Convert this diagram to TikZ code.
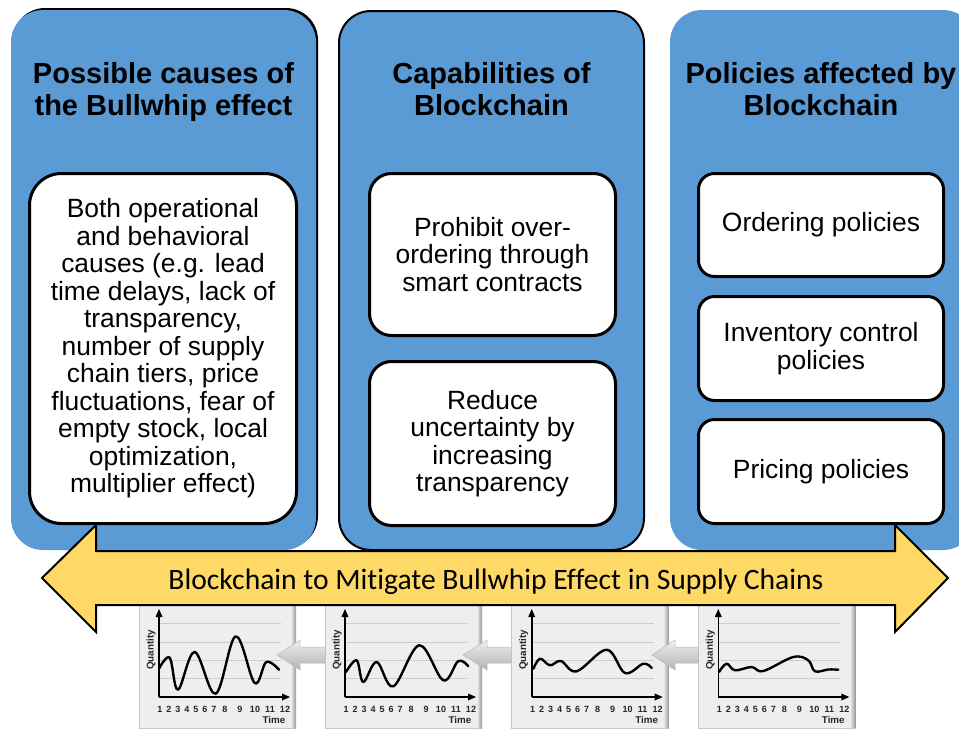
\documentclass[tikz,border=0pt]{standalone}
\usepackage{fontspec}
\setmainfont{Liberation Sans}
\newfontfamily\bannerfont[Ligatures=NoCommon]{Carlito}
\definecolor{panelblue}{RGB}{91,155,213}
\definecolor{banneryellow}{RGB}{255,217,102}
\definecolor{chartbg}{RGB}{238,238,238}
\definecolor{gridgray}{RGB}{205,205,205}
\tikzset{
  panelfill/.style={fill=panelblue, rounded corners=32pt},
  whitebox/.style={rectangle, draw=black, line width=3pt, fill=white, align=center,
    inner sep=0pt, font=\fontsize{26.4}{27.5}\selectfont},
  paneltitle/.style={align=center, inner sep=0pt, font=\fontsize{29}{32}\selectfont\bfseries},
  chartlbl/.style={inner sep=0pt, text=black!85, font=\fontsize{9}{10}\selectfont\bfseries},
  qlbl/.style={inner sep=0pt, text=black!85, font=\fontsize{9.8}{10}\selectfont\bfseries},
  flowarrow/.style={top color=gray!12, bottom color=gray!60, draw=gray!55, line width=0.5pt},
  banner/.style={fill=banneryellow, draw=black, line width=2pt, line join=miter},
}
\newcommand\bwchart[3]{%
\begin{scope}[shift={(#1,697)}, yscale=-1]
  \fill[chartbg] (-20,-31) rectangle (133,96);
  \draw[gray!45, line width=0.8pt] (-20,-31) rectangle (133,96);
  \shade[left color=gray!30, right color=gray!80] (133,-31) rectangle (137,96);
  \foreach \g in {18.3,36.7,55,73.3} \draw[gridgray, line width=0.8pt] (0,\g) -- (122,\g);
  \draw[line width=1.6pt] (0,0) -- (126,0);
  \fill (131,0) -- (123,3.5) -- (123,-3.5) -- cycle;
  \draw[line width=1.6pt] (0,0) -- (0,82);
  \fill (0,88) -- (-3.5,80) -- (3.5,80) -- cycle;
  \draw[line width=2.4pt, line join=round, line cap=round] plot[smooth, tension=0.6] coordinates {#3};
  \node[qlbl, rotate=90] (#2-q) at (-8,47) {Quantity};
  \node[qlbl] (#2-t) at (115,-22.5) {Time};
  \foreach \n/\xx in {1/1,2/10,3/19,4/28,5/37,6/46,7/55,8/66,9/81,10/96,11/111,12/126}
    \node[chartlbl] (#2-n\n) at (\xx,-12.7) {\n};
\end{scope}}
\begin{document}
\begin{tikzpicture}[x=1pt, y=-1pt]
\useasboundingbox (0,0) rectangle (959,729);
\fill[white] (0,0) rectangle (959,729);

% panels
\fill[black, rounded corners=32pt] (13,8) rectangle (318,548);
\fill[panelfill] (11,10) rectangle (316,550);
\draw[panelfill, draw=black, line width=2pt] (339,11) rectangle (644,550);
\fill[panelfill] (670,10) rectangle (975,550);

% titles
\node[paneltitle] (t1) at (163.5,91.8) {Possible causes of\\the Bullwhip effect};
\node[paneltitle] (t2) at (491.5,88.8) {Capabilities of\\Blockchain};
\node[paneltitle] (t3) at (821,88.8) {Policies affected by\\Blockchain};

% white boxes
\node[whitebox, rounded corners=32pt, minimum width=267pt, minimum height=350pt] (b1) at (163,348.5)
  {Both operational\\and behavioral\\causes (e.g. lead\\time delays, lack of\\transparency,\\number of supply\\chain tiers, price\\fluctuations, fear of\\empty stock, local\\optimization,\\multiplier effect)};
\node[whitebox, rounded corners=22pt, minimum width=246pt, minimum height=162pt] (b2a) at (492.5,254.5)
  {Prohibit over-\\ordering through\\smart contracts};
\node[whitebox, rounded corners=22pt, minimum width=246pt, minimum height=164pt] (b2b) at (492.5,443.5)
  {Reduce\\uncertainty by\\increasing\\transparency};
\node[whitebox, rounded corners=16pt, minimum width=245pt, minimum height=103pt] (b3a) at (821,225)
  {Ordering policies};
\node[whitebox, rounded corners=16pt, minimum width=245pt, minimum height=104pt] (b3b) at (821,348.5)
  {Inventory control\\policies};
\node[whitebox, rounded corners=16pt, minimum width=245pt, minimum height=104pt] (b3c) at (821,471.5)
  {Pricing policies};

% charts
\bwchart{159}{c1}{(0,28.3) (10.7,39.3) (19,7.3) (35.7,45) (56.7,3.3) (76.7,60.7) (95.7,14) (107.3,35) (120,27.3)}
\bwchart{345}{c2}{(1,25) (11.7,36.7) (18.3,15) (31.7,35) (48.3,10.7) (74.3,51.7) (98.3,16.7) (113.3,36) (123.3,30.7)}
\bwchart{531.7}{c3}{(1.7,28.3) (8.3,38.3) (18.3,31.7) (29.3,36) (45,25.7) (75,47.3) (93.3,24) (111.7,33.3) (120,29)}
\bwchart{718.3}{c4}{(0.7,25) (8.3,33.3) (16.7,26.7) (33.3,30) (45,26) (75,40) (90,36.7) (96.7,25.7) (110,27.5) (120,27.3)}

% grey flow arrows between charts
\path[flowarrow] (277,655) -- (300,640) -- (300,647) -- (325,647) -- (325,663) -- (300,663) -- (300,670) -- cycle;
\path[flowarrow] (463,655) -- (487,640) -- (487,647) -- (511.7,647) -- (511.7,663) -- (487,663) -- (487,670) -- cycle;
\path[flowarrow] (652,655) -- (675,640) -- (675,647) -- (698.3,647) -- (698.3,663) -- (675,663) -- (675,670) -- cycle;

% yellow double arrow
\path[banner] (42,578) -- (96,525) -- (96,551) -- (895,551) -- (895,525) -- (948,578)
  -- (895,632) -- (895,605) -- (96,605) -- (96,632) -- cycle;
\node[inner sep=0pt, anchor=base, font=\bannerfont\fontsize{29.6}{32}\selectfont] (bn) at (496,589)
  {Blockchain to Mitigate Bullwhip Effect in Supply Chains};
\end{tikzpicture}
\end{document}
